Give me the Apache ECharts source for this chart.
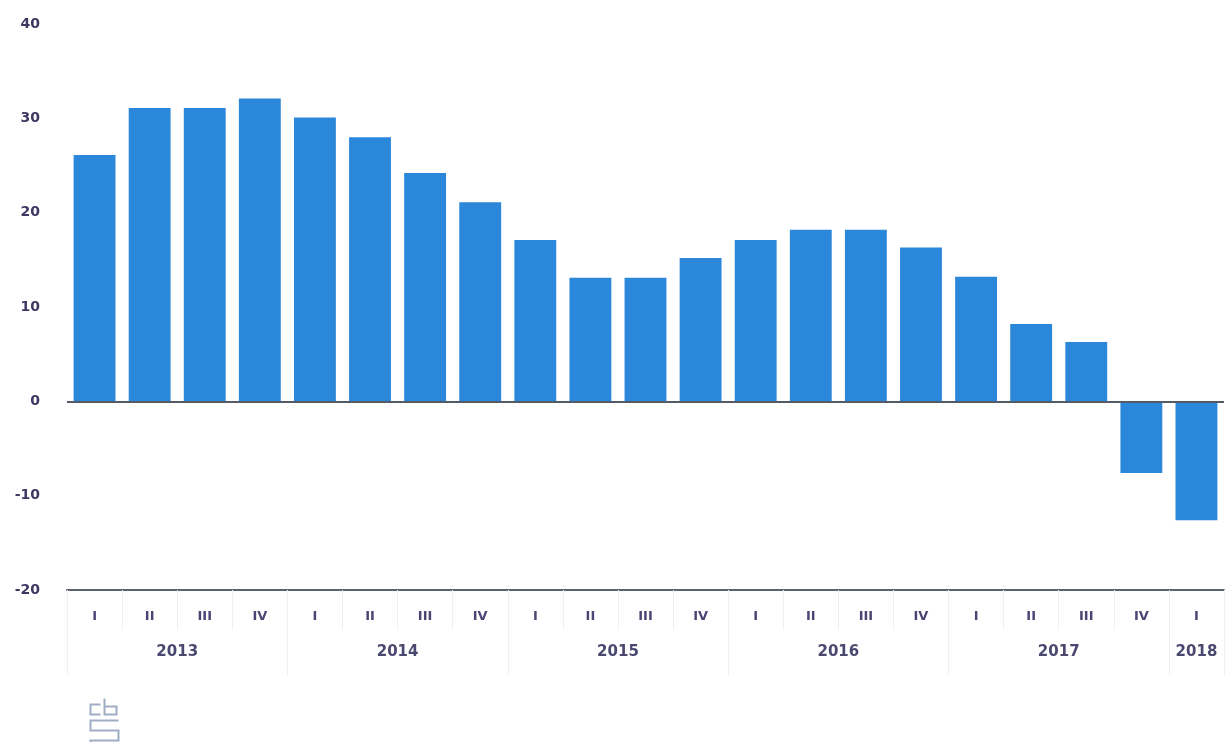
<!DOCTYPE html>
<html><head><meta charset="utf-8">
<script src="https://cdn.jsdelivr.net/npm/echarts@6/dist/echarts.min.js"></script>
<style>html,body{margin:0;padding:0;background:#fff}#c{width:1227px;height:742px}</style>
</head><body><div id="c"></div>
<script>
const quarters = ['I','II','III','IV','I','II','III','IV','I','II','III','IV','I','II','III','IV','I','II','III','IV','I'];
const values = [26.1, 31.1, 31.1, 32.1, 30.1, 28.0, 24.2, 21.1, 17.1, 13.1, 13.1, 15.2, 17.1, 18.2, 18.2, 16.3, 13.2, 8.2, 6.3, -7.6, -12.6];
const years = ['2013','2014','2015','2016','2017','2018'];
const yearStartQuarter = [0, 4, 8, 12, 16, 20, 21];
const yTicks = {min: -20, max: 40, interval: 10};

// half-quarter positions for the year axis (boundaryGap false): index i -> position i/2
const halfSlots = [];
for (let i = 0; i <= quarters.length * 2; i++) halfSlots.push('');
for (let k = 0; k < years.length; k++) {
  const mid = yearStartQuarter[k] + yearStartQuarter[k + 1];
  halfSlots[mid] = years[k];
}
const yearBoundaryIdx = yearStartQuarter.map(q => q * 2);

const chart = echarts.init(document.getElementById('c'));
chart.setOption({
  animation: false,
  grid: {left: 67, right: 0, top: 24, bottom: 152},
  xAxis: [{
    type: 'category', data: quarters, position: 'bottom',
    axisLine: {onZero: false, lineStyle: {color: '#5c6272', width: 2}},
    axisTick: {show: true, length: 40, lineStyle: {color: '#eef0f4'}},
    axisLabel: {color: '#4b4573', fontSize: 13, fontWeight: 'bold', fontFamily: 'DejaVu Sans', margin: 20}
  }, {
    type: 'category', data: halfSlots, boundaryGap: false, position: 'bottom', offset: 40,
    axisLine: {show: false, onZero: false},
    axisTick: {show: true, length: 45, interval: (i) => yearBoundaryIdx.indexOf(i) >= 0, lineStyle: {color: '#eef0f4'}},
    axisLabel: {interval: 0, color: '#4b4870', fontSize: 15, fontWeight: 'bold', fontFamily: 'DejaVu Sans', margin: 15}
  }],
  yAxis: {
    type: 'value', min: yTicks.min, max: yTicks.max, interval: yTicks.interval,
    axisLine: {show: false}, axisTick: {show: false}, splitLine: {show: false},
    axisLabel: {color: '#3d3862', fontSize: 14, fontWeight: 'bold', fontFamily: 'DejaVu Sans', margin: 27}
  },
  series: [{
    type: 'bar', data: values, xAxisIndex: 0, barCategoryGap: '24%',
    itemStyle: {color: '#2b87da'},
    markLine: {silent: true, symbol: 'none', label: {show: false},
      lineStyle: {color: '#555b66', width: 2, type: 'solid'},
      data: [{yAxis: 0}]}
  }],
  graphic: [{
    type: 'group', left: 88, top: 696,
    children: [
      {type: 'polyline', shape: {points: [[10,0],[0,0],[0,10],[10,10]]}, style: {fill: null, stroke: '#9fadc4', lineWidth: 2}},
      {type: 'polyline', shape: {points: [[14,-6],[14,10],[26,10],[26,2],[14,2]]}, style: {fill: null, stroke: '#9fadc4', lineWidth: 2}},
      {type: 'polyline', shape: {points: [[28,16],[0,16],[0,26],[28,26],[28,36],[0,36],[0,46]]}, style: {fill: null, stroke: '#9fadc4', lineWidth: 2}}
    ]
  }]
});
</script></body></html>
